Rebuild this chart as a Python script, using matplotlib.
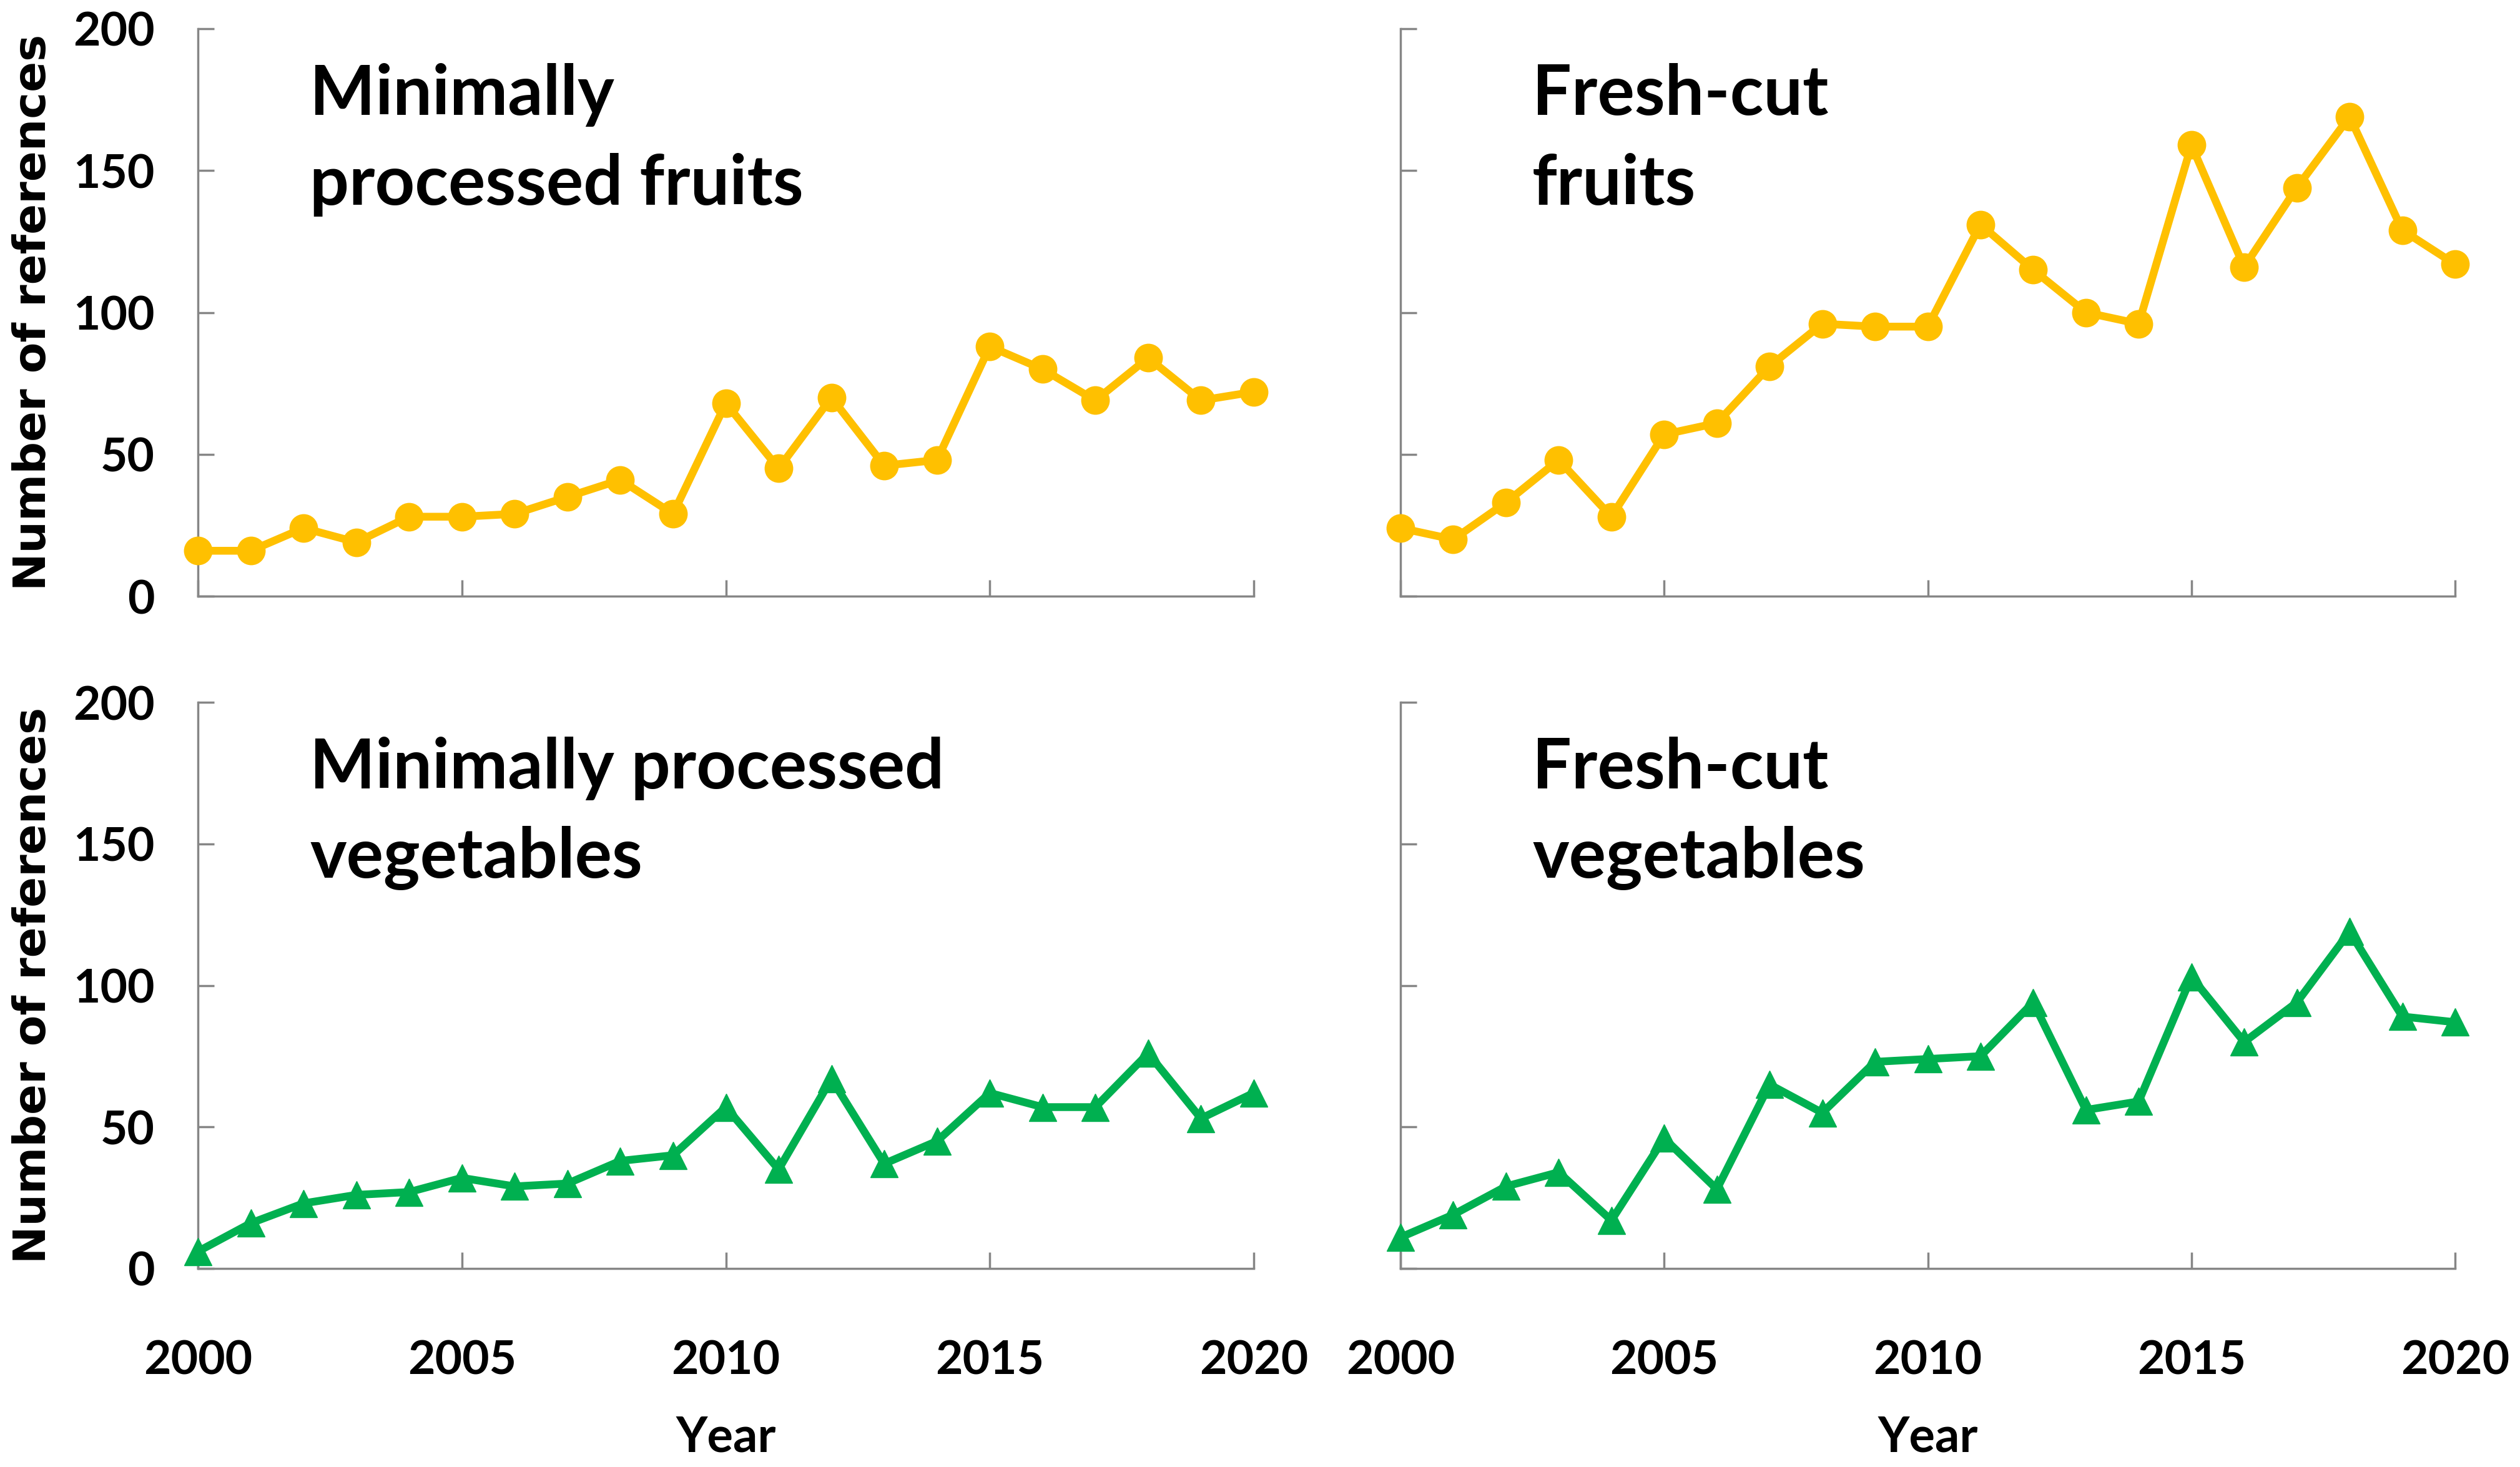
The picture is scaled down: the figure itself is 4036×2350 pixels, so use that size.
import matplotlib
matplotlib.use("Agg")
import matplotlib.pyplot as plt

years = list(range(2000, 2021))
mp_fruits = [16, 16, 24, 19, 28, 28, 29, 35, 41, 29, 68, 45, 70, 46, 48, 88, 80, 69, 84, 69, 72]
fc_fruits = [24, 20, 33, 48, 28, 57, 61, 81, 96, 95, 95, 131, 115, 100, 96, 159, 116, 144, 169, 129, 117]
mp_veg = [6, 16, 23, 26, 27, 32, 29, 30, 38, 40, 57, 35, 67, 37, 45, 62, 57, 57, 76, 53, 62]
fc_veg = [11, 19, 29, 34, 17, 46, 28, 65, 55, 73, 74, 75, 94, 56, 59, 103, 80, 94, 119, 89, 87]

titles = [["Minimally", "processed fruits"], ["Fresh-cut", "fruits"],
          ["Minimally processed", "vegetables"], ["Fresh-cut", "vegetables"]]
x_ticks = [2000, 2005, 2010, 2015, 2020]
y_ticks = [0, 50, 100, 150, 200]

ORANGE = "#FFC000"
GREEN = "#00B050"
GRAY = "#868686"
CAL = ["Lato", "DejaVu Sans"]

fig = plt.figure(figsize=(40.37, 23.5), dpi=100)

W = 4037.0
H = 2350.0
lefts = [317 / W, 2243 / W]
widths = [1691 / W, 1689 / W]
bottoms = [1 - 955 / H, 1 - 2032 / H]
heights = [909 / H, 907 / H]

series = [(mp_fruits, ORANGE, "o", 32), (fc_fruits, ORANGE, "o", 32),
          (mp_veg, GREEN, "^", 32), (fc_veg, GREEN, "^", 32)]
title_x = [0.106, 0.125, 0.106, 0.125]

for i in range(4):
    r, c = divmod(i, 2)
    ax = fig.add_axes([lefts[c], bottoms[r], widths[c], heights[r]])
    vals, col, mk, ms = series[i]
    ax.plot(years, vals, color=col, lw=9, marker=mk, markersize=ms,
            markerfacecolor=col, markeredgecolor=col, clip_on=False, zorder=3)
    ax.set_xlim(2000, 2020)
    ax.set_ylim(0, 200)
    ax.set_xticks(x_ticks)
    ax.set_yticks(y_ticks)
    for s in ["top", "right"]:
        ax.spines[s].set_visible(False)
    for s in ["left", "bottom"]:
        ax.spines[s].set_color(GRAY)
        ax.spines[s].set_linewidth(2.5)
    ax.tick_params(axis="both", direction="in", length=19, width=2.5, color=GRAY)
    ax.tick_params(axis="y", pad=50)
    ax.tick_params(axis="x", pad=82)
    if r == 0:
        ax.set_xticklabels([])
    else:
        ax.set_xticklabels([str(v) for v in x_ticks], fontfamily=CAL,
                           fontweight="bold", fontsize=54)
    if c == 1:
        ax.set_yticklabels([])
    else:
        ax.set_yticklabels([str(v) for v in y_ticks], fontfamily=CAL,
                           fontweight="bold", fontsize=54)
    ax.text(title_x[i], 0.848, titles[i][0], transform=ax.transAxes,
            fontfamily=CAL, fontweight="bold", fontsize=80, va="baseline", ha="left")
    ax.text(title_x[i], 0.690, titles[i][1], transform=ax.transAxes,
            fontfamily=CAL, fontweight="bold", fontsize=80, va="baseline", ha="left")

# y labels
for r in range(2):
    yc = bottoms[r] + heights[r] / 2
    fig.text(54 / W, yc, "Number of references", rotation=90, ha="center",
             va="center", fontfamily=["DejaVu Sans"], fontweight="bold", fontsize=52)
# x labels
for c in range(2):
    xc = lefts[c] + widths[c] / 2
    fig.text(xc, 1 - 2303 / H, "Year", ha="center", va="center",
             fontfamily=CAL, fontweight="bold", fontsize=56)

fig.savefig("out.png", dpi=100, facecolor="white")
